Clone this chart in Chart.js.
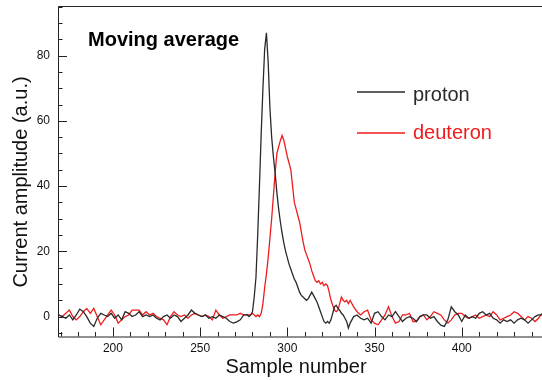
<!DOCTYPE html>
<html>
<head>
<meta charset="utf-8">
<script src="https://cdn.jsdelivr.net/npm/chart.js@4.4.0/dist/chart.umd.min.js"></script>
<style>
  html, body { margin: 0; padding: 0; background: #fff; }
  #wrap { width: 542px; height: 380px; position: relative; }
</style>
</head>
<body>
<div id="wrap"><canvas id="pulse"></canvas></div>
<script>
// sample numbers (step 2 on the baseline, step 1 around the pulse)
const samples = [
  169,171,173,175,177,179,181,183,185,187,189,191,193,195,197,199,201,203,205,207,
  209,211,213,215,217,219,221,223,225,227,229,231,233,235,237,239,241,243,245,247,
  249,251,253,255,257,259,261,263,265,267,269,271,273,275,277,
  278,279,280,281,282,283,284,285,286,287,288,289,290,291,292,293,294,295,296,297,
  298,299,300,301,302,303,304,305,306,307,308,309,310,311,312,313,314,315,316,317,
  318,319,320,321,322,323,324,325,326,327,328,329,330,331,332,333,334,335,336,
  338,340,342,344,346,348,350,352,354,356,358,360,362,364,366,368,370,372,374,376,
  378,380,382,384,386,388,390,392,394,396,398,400,402,404,406,408,410,412,414,416,
  418,420,422,424,426,428,430,432,434,436,438,440,442,444,446
];

const proton = [
  0.5,0,-0.5,0.5,-1,0.5,2.3,1.5,0,-2,-3,-0.5,1,0.5,0,1,-0.5,0.5,-1,1.5,
  1,0,0.5,1.5,0,0.5,0,0.5,-0.5,-1,0,0.5,-0.5,0.5,0,-1.5,-0.5,0.5,2,1,
  0.5,0,0.5,-0.5,0,-0.5,0.5,0,-0.5,-1.5,-2,-1.6,-1,0.5,0.5,
  0,0.5,1.5,6,12,25,40,56,70,82,87,78,64,55,49,44,38,33,29,25.5,
  22.5,20,18,16,14.5,13,11.5,10.5,9,7.5,6.5,6,5.5,5,5.5,6.5,7.5,6.5,5.5,4.5,
  3,1.5,0,-1.5,-2,-1.5,-2,-1,1,3,3.5,2.5,2,1,0.5,-0.5,-1.5,-3.5,-2,
  0,0.5,-0.5,-1,-0.5,-2,1,1.5,0,-1,0.5,0,1.5,0,-1.5,-0.5,0,-0.5,-1.5,0,
  0.5,0.5,-0.5,0,-1.5,-2.6,-3,-1,3,1.5,0.5,-1.5,0.5,-0.5,0,-0.5,1,1.5,0.5,1,
  -0.5,-1,-2,-1,-1.5,-1,-2,-1,-0.5,-1,-2,-1,0,0.5,0.5
];

const deuteron = [
  0.5,0,1,2,0,-1,0,1.5,2.5,1,2.5,0,-2.5,-1,0.5,2,0.5,-2,-1,0,
  0.5,2,2,2,0.5,1.5,0.5,1,0,-0.5,-1,-2.5,0,1.5,0.5,0,0.5,-0.5,0.5,1,
  0.5,0,0.5,0,-1,2,0.5,-0.5,0,0.5,0.5,0.5,1,0.5,0.5,
  0.5,0.5,1,0.5,0,0.5,0,1,4,9,13,18,24,30,37,44,50,52,54,55.5,
  54,51.5,49,47,45,40,35,33,31,29,26,23,20.5,19,17.5,16,14,12.5,11,10.5,
  11,10,10.5,9.5,10,9.5,7.5,5,3.5,2,1.5,2,4,6,5,4.5,5,4,5,
  3,1.5,0.5,1.5,2,-1,-2,-2.5,-1,0.5,3,0,-2,-1.5,0.5,0.5,1,-1.5,-1.5,0,
  0.5,-1,0,1.5,1,0.5,-1,-2,-1,0.5,1,1,0,-0.5,0,0.5,-0.5,0,0.5,0,
  1.5,0.5,-1,-0.5,0,0.5,1.5,1,0,-1,0,-0.5,-1.5,-0.5,1
];

const seriesNames = ['proton', 'deuteron'];
const xTickLabels = [200, 250, 300, 350, 400];
const yTickLabels = [0, 20, 40, 60, 80];

const FONT = '"Liberation Sans", Arial, Helvetica, sans-serif';

function toPoints(ys) {
  return samples.map((s, i) => ({ x: s, y: ys[i] }));
}

// ROOT-like frame: box, inner ticks, titles and the legend
const rootFrame = {
  id: 'rootFrame',
  afterDatasetsDraw(chart) {
    const { ctx, chartArea: a, scales } = chart;
    const xs = scales.x, ys = scales.y;
    ctx.save();
    ctx.strokeStyle = '#222';
    ctx.lineWidth = 1;
    ctx.beginPath();
    ctx.moveTo(a.right + 2, a.top + 0.5);
    ctx.lineTo(a.left + 0.5, a.top + 0.5);
    ctx.lineTo(a.left + 0.5, a.bottom + 0.5);
    ctx.lineTo(a.right + 2, a.bottom + 0.5);
    ctx.stroke();

    ctx.beginPath();
    for (let v = 170; v <= xs.max; v += 10) {
      const px = Math.round(xs.getPixelForValue(v)) + 0.5;
      const len = v % 50 === 0 ? 9 : 4.5;
      ctx.moveTo(px, a.bottom);
      ctx.lineTo(px, a.bottom - len);
    }
    for (let v = -5; v <= ys.max; v += 5) {
      const py = Math.round(ys.getPixelForValue(v)) + 0.5;
      const len = v % 20 === 0 ? 9 : 4.5;
      ctx.moveTo(a.left, py);
      ctx.lineTo(a.left + len, py);
    }
    ctx.stroke();

    // axis titles
    ctx.fillStyle = '#111';
    ctx.font = '20px ' + FONT;
    ctx.textAlign = 'center';
    ctx.textBaseline = 'middle';
    ctx.fillText('Sample number', 296, 367);
    ctx.save();
    ctx.translate(21, 182);
    ctx.rotate(-Math.PI / 2);
    ctx.fillText('Current amplitude (a.u.)', 0, 0);
    ctx.restore();

    // panel label
    ctx.font = 'bold 20px ' + FONT;
    ctx.textAlign = 'left';
    ctx.fillStyle = '#000';
    ctx.fillText('Moving average', 88, 40);

    // legend
    const textRows = [95, 133];
    const lineRows = [92, 133];
    chart.data.datasets.forEach((ds, i) => {
      ctx.strokeStyle = ds.borderColor;
      ctx.lineWidth = 1.3;
      ctx.beginPath();
      ctx.moveTo(357, lineRows[i]);
      ctx.lineTo(405, lineRows[i]);
      ctx.stroke();
      ctx.fillStyle = ds.borderColor;
      ctx.font = '20px ' + FONT;
      ctx.fillText(ds.label, 413, textRows[i]);
    });
    ctx.restore();
  }
};

new Chart(document.getElementById('pulse'), {
  type: 'line',
  plugins: [rootFrame],
  data: {
    datasets: [
      {
        label: seriesNames[0],
        data: toPoints(proton),
        borderColor: '#2a2a2a',
        borderWidth: 1.3,
        pointRadius: 0,
        tension: 0,
        order: 1
      },
      {
        label: seriesNames[1],
        data: toPoints(deuteron),
        borderColor: '#ee1c1c',
        borderWidth: 1.3,
        pointRadius: 0,
        tension: 0,
        order: 2
      }
    ]
  },
  options: {
    responsive: true,
    maintainAspectRatio: false,
    animation: false,
    layout: { padding: { top: 6, right: 0, left: 0, bottom: 0 } },
    plugins: {
      legend: { display: false },
      tooltip: { enabled: false }
    },
    scales: {
      x: {
        type: 'linear',
        min: 168.5,
        max: 446,
        afterFit(scale) {
          scale.height = 43.5;
          scale.paddingLeft = 0;
          scale.paddingRight = 0;
        },
        grid: { display: false, drawTicks: false },
        border: { display: false },
        ticks: {
          stepSize: 50,
          includeBounds: false,
          padding: 5,
          color: '#111',
          font: { family: FONT, size: 12 },
          maxRotation: 0,
          autoSkip: false,
          callback: v => xTickLabels.includes(v) ? String(v) : ''
        }
      },
      y: {
        min: -6.1,
        max: 95.2,
        afterFit(scale) {
          scale.width = 58;
          scale.paddingTop = 0;
          scale.paddingBottom = 0;
        },
        grid: { display: false, drawTicks: false },
        border: { display: false },
        ticks: {
          stepSize: 20,
          includeBounds: false,
          padding: 8,
          color: '#111',
          font: { family: FONT, size: 12 },
          callback: v => yTickLabels.includes(v) ? String(v) : ''
        }
      }
    }
  }
});
</script>
</body>
</html>
